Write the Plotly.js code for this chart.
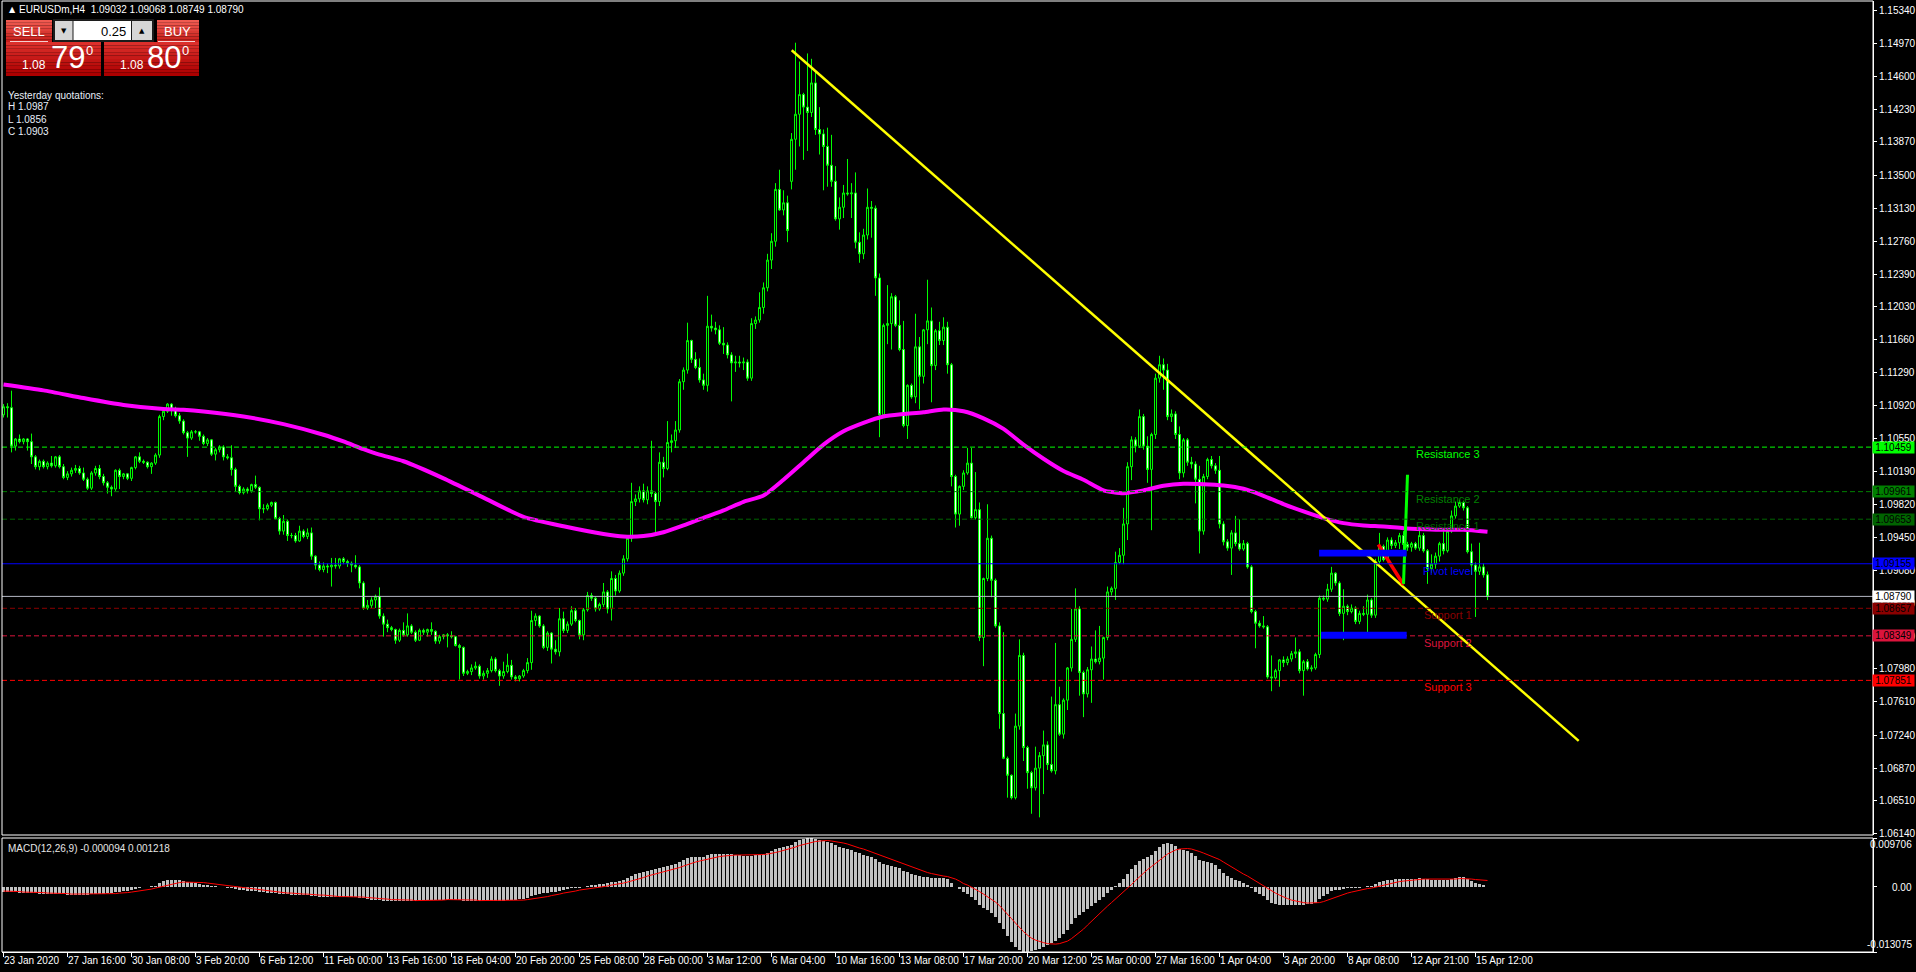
<!DOCTYPE html>
<html><head><meta charset="utf-8">
<script src="https://cdn.plot.ly/plotly-3.0.1.min.js"></script>
<style>html,body{margin:0;padding:0;background:#000;overflow:hidden}#chart{width:1916px;height:972px}</style>
</head><body><div id="chart"></div>
<script>
// ---------- DATA (EURUSDm H4) ----------
const openP = [
1.1082,1.1091,1.1090,1.1047,1.1055,1.1052,1.1055,1.1052,1.1035,1.1024,
1.1030,1.1024,1.1028,1.1025,1.1035,1.1024,1.1012,1.1016,1.1020,1.1022,
1.1017,1.1010,1.1000,1.1017,1.1022,1.1013,1.1006,1.1001,1.0999,1.1020,
1.1013,1.1016,1.1011,1.1023,1.1035,1.1030,1.1029,1.1024,1.1028,1.1037,
1.1080,1.1086,1.1094,1.1088,1.1081,1.1075,1.1062,1.1056,1.1063,1.1063,
1.1058,1.1050,1.1054,1.1038,1.1043,1.1046,1.1035,1.1034,1.1021,1.1002,
1.0995,1.0999,1.0997,1.1004,1.1001,1.0977,1.0977,1.0981,1.0984,1.0966,
1.0952,1.0963,1.0947,1.0947,1.0941,1.0952,1.0946,1.0950,1.0924,1.0914,
1.0909,1.0913,1.0912,1.0914,1.0913,1.0921,1.0918,1.0916,1.0914,1.0912,
1.0894,1.0866,1.0869,1.0875,1.0879,1.0857,1.0848,1.0844,1.0842,1.0830,
1.0841,1.0836,1.0846,1.0839,1.0830,1.0841,1.0839,1.0842,1.0840,1.0829,
1.0834,1.0836,1.0835,1.0834,1.0824,1.0822,1.0793,1.0795,1.0799,1.0801,
1.0790,1.0793,1.0796,1.0809,1.0796,1.0790,1.0795,1.0802,1.0789,1.0787,
1.0790,1.0796,1.0805,1.0852,1.0857,1.0846,1.0822,1.0838,1.0820,1.0817,
1.0854,1.0841,1.0848,1.0863,1.0852,1.0836,1.0864,1.0880,1.0877,1.0865,
1.0870,1.0884,1.0865,1.0899,1.0885,1.0905,1.0921,1.0944,1.0985,1.0988,
1.0997,1.0987,1.0997,1.0994,1.0985,1.1029,1.1022,1.1051,1.1053,1.1065,
1.1119,1.1132,1.1165,1.1144,1.1135,1.1121,1.1115,1.1181,1.1179,1.1177,
1.1162,1.1160,1.1149,1.1140,1.1141,1.1140,1.1141,1.1123,1.1184,1.1188,
1.1202,1.1224,1.1255,1.1276,1.1334,1.1311,1.1319,1.1343,1.1390,1.1418,
1.1440,1.1426,1.1420,1.1453,1.1401,1.1396,1.1382,1.1361,1.1343,1.1301,
1.1314,1.1330,1.1329,1.1330,1.1275,1.1262,1.1283,1.1314,1.1313,1.1235,
1.1082,1.1182,1.1184,1.1214,1.1182,1.1155,1.1070,1.1115,1.1102,1.1158,
1.1125,1.1177,1.1187,1.1137,1.1176,1.1165,1.1180,1.1138,1.1013,1.0971,
1.1002,1.1017,1.1028,1.0967,1.0976,1.0833,1.0899,1.0944,1.0897,1.0846,
1.0748,1.0698,1.0679,1.0654,1.0734,1.0813,1.0710,1.0682,1.0665,1.0687,
1.0701,1.0713,1.0691,1.0684,1.0758,1.0725,1.0763,1.0799,1.0831,1.0865,
1.0794,1.0770,1.0797,1.0809,1.0806,1.0810,1.0833,1.0884,1.0888,1.0917,
1.0925,1.0960,1.1024,1.1054,1.1047,1.1080,1.1047,1.1021,1.1060,1.1123,
1.1138,1.1132,1.1080,1.1083,1.1060,1.1017,1.1054,1.1029,1.1027,1.1010,
1.0952,1.1013,1.1032,1.1025,1.1020,1.0960,1.0940,1.0933,1.0950,1.0938,
1.0932,1.0938,1.0912,1.0862,1.0849,1.0846,1.0845,1.0789,1.0788,1.0796,
1.0808,1.0805,1.0809,1.0815,1.0817,1.0796,1.0806,1.0798,1.0799,1.0814,
1.0877,1.0876,1.0887,1.0905,1.0894,1.0860,1.0868,1.0862,1.0866,1.0851,
1.0860,1.0859,1.0875,1.0858,1.0918,1.0935,1.0920,1.0942,1.0936,1.0939,
1.0947,1.0937,1.0934,1.0938,1.0933,1.0947,1.0930,1.0910,1.0915,1.0924,
1.0938,1.0930,1.0952,1.0969,1.0980,1.0984,1.0978,1.0929,1.0914,1.0907,
1.0912,1.09032];
const highP = [
1.1094,1.1095,1.1109,1.1056,1.1060,1.1056,1.1056,1.1061,1.1037,1.1032,
1.1032,1.1030,1.1036,1.1036,1.1037,1.1027,1.1019,1.1023,1.1026,1.1025,
1.1023,1.1012,1.1019,1.1025,1.1026,1.1016,1.1008,1.1003,1.1021,1.1022,
1.1017,1.1017,1.1024,1.1036,1.1040,1.1032,1.1030,1.1029,1.1039,1.1082,
1.1089,1.1095,1.1095,1.1091,1.1084,1.1077,1.1064,1.1065,1.1065,1.1064,
1.1060,1.1056,1.1055,1.1045,1.1048,1.1048,1.1038,1.1048,1.1023,1.1004,
1.1001,1.1001,1.1005,1.1014,1.1002,1.0982,1.0983,1.0985,1.0985,1.0968,
1.0970,1.0965,1.0950,1.0950,1.0958,1.0954,1.0955,1.0956,1.0925,1.0918,
1.0917,1.0916,1.0922,1.0922,1.0922,1.0923,1.0920,1.0918,1.0925,1.0914,
1.0896,1.0875,1.0878,1.0881,1.0889,1.0860,1.0853,1.0846,1.0843,1.0843,
1.0850,1.0860,1.0848,1.0841,1.0843,1.0843,1.0843,1.0850,1.0841,1.0836,
1.0837,1.0838,1.0840,1.0835,1.0826,1.0823,1.0797,1.0803,1.0806,1.0803,
1.0796,1.0799,1.0812,1.0811,1.0798,1.0806,1.0815,1.0808,1.0791,1.0791,
1.0798,1.0810,1.0863,1.0860,1.0858,1.0848,1.0840,1.0839,1.0830,1.0866,
1.0862,1.0851,1.0868,1.0866,1.0853,1.0866,1.0884,1.0883,1.0879,1.0872,
1.0894,1.0886,1.0907,1.0903,1.0908,1.0925,1.0946,1.1006,1.0993,1.1002,
1.1005,1.1002,1.1053,1.0996,1.1040,1.1035,1.1075,1.1060,1.1075,1.1122,
1.1135,1.1185,1.1166,1.1152,1.1145,1.1128,1.1215,1.1194,1.1186,1.1182,
1.1180,1.1163,1.1152,1.1148,1.1148,1.1146,1.1144,1.1190,1.1192,1.1219,
1.1230,1.1262,1.1285,1.1341,1.1356,1.1333,1.1327,1.1397,1.1498,1.1477,
1.1442,1.1486,1.1480,1.1466,1.1426,1.1401,1.1403,1.1395,1.1360,1.1325,
1.1339,1.1368,1.1341,1.1353,1.1286,1.1290,1.1335,1.1321,1.1316,1.1240,
1.1184,1.1227,1.1218,1.1216,1.1210,1.1187,1.1116,1.1117,1.1195,1.1169,
1.1178,1.1233,1.1202,1.1178,1.1186,1.1191,1.1186,1.1140,1.1015,1.1003,
1.1020,1.1045,1.1045,1.1018,1.0984,1.0900,1.0982,1.0947,1.0899,1.0850,
1.0839,1.0700,1.0680,1.0748,1.0831,1.0816,1.0712,1.0684,1.0711,1.0705,
1.0729,1.0717,1.0767,1.0827,1.0778,1.0765,1.0800,1.0865,1.0888,1.0868,
1.0796,1.0800,1.0823,1.0841,1.0846,1.0834,1.0890,1.0890,1.0929,1.0933,
1.0978,1.1029,1.1058,1.1057,1.1088,1.1083,1.1058,1.1062,1.1128,1.1148,
1.1145,1.1139,1.1088,1.1086,1.1069,1.1056,1.1056,1.1035,1.1030,1.1025,
1.1016,1.1034,1.1036,1.1028,1.1036,1.0963,1.0943,1.0953,1.0969,1.0965,
1.0942,1.0940,1.0914,1.0864,1.0852,1.0857,1.0847,1.0813,1.0798,1.0809,
1.0812,1.0812,1.0818,1.0833,1.0820,1.0808,1.0809,1.0802,1.0816,1.0880,
1.0880,1.0893,1.0912,1.0906,1.0896,1.0887,1.0870,1.0870,1.0868,1.0863,
1.0868,1.0881,1.0877,1.0921,1.0950,1.0937,1.0945,1.0945,1.0942,1.0950,
1.0952,1.0940,1.0940,1.0940,1.0954,1.0950,1.0932,1.0926,1.0928,1.0940,
1.0953,1.0955,1.0975,1.0985,1.0987,1.0986,1.0980,1.0938,1.0917,1.0939,
1.0916,1.09068];
const lowP = [
1.1079,1.1079,1.1040,1.1042,1.1050,1.1049,1.1042,1.1027,1.1021,1.1020,
1.1022,1.1021,1.1023,1.1023,1.1022,1.1010,1.1009,1.1013,1.1017,1.1015,
1.1008,1.0998,1.0998,1.1014,1.1010,1.1003,1.0994,1.0991,1.0997,1.0999,
1.1010,1.1009,1.1008,1.1021,1.1028,1.1027,1.1022,1.1016,1.1026,1.1034,
1.1076,1.1084,1.1081,1.1079,1.1072,1.1060,1.1035,1.1054,1.1061,1.1053,
1.1048,1.1047,1.1036,1.1031,1.1040,1.1031,1.1032,1.1014,1.0996,1.0993,
1.0993,1.0994,1.0995,1.0999,1.0964,1.0972,1.0975,1.0979,1.0965,1.0948,
1.0948,1.0941,1.0944,1.0939,1.0940,1.0944,1.0943,1.0920,1.0909,1.0907,
1.0906,1.0905,1.0890,1.0910,1.0910,1.0915,1.0912,1.0906,1.0910,1.0888,
1.0864,1.0864,1.0866,1.0866,1.0854,1.0834,1.0839,1.0840,1.0826,1.0828,
1.0834,1.0834,1.0837,1.0828,1.0829,1.0836,1.0834,1.0836,1.0826,1.0826,
1.0831,1.0822,1.0832,1.0823,1.0786,1.0790,1.0791,1.0791,1.0797,1.0787,
1.0786,1.0788,1.0794,1.0794,1.0779,1.0787,1.0793,1.0786,1.0784,1.0784,
1.0788,1.0793,1.0797,1.0846,1.0844,1.0820,1.0818,1.0804,1.0814,1.0812,
1.0838,1.0838,1.0846,1.0850,1.0831,1.0830,1.0862,1.0874,1.0862,1.0863,
1.0867,1.0860,1.0852,1.0880,1.0883,1.0902,1.0918,1.0940,1.0980,1.0984,
1.0984,1.0982,1.0990,1.0951,1.0980,1.1012,1.1020,1.1040,1.1045,1.1062,
1.1110,1.1128,1.1140,1.1133,1.1118,1.1110,1.1108,1.1175,1.1172,1.1160,
1.1150,1.1145,1.1097,1.1130,1.1135,1.1132,1.1120,1.1120,1.1178,1.1185,
1.1195,1.1220,1.1245,1.1270,1.1310,1.1305,1.1275,1.1334,1.1356,1.1382,
1.1367,1.1377,1.1415,1.1395,1.1373,1.1333,1.1337,1.1337,1.1299,1.1289,
1.1302,1.1327,1.1302,1.1268,1.1252,1.1256,1.1278,1.1280,1.1215,1.1057,
1.1080,1.1161,1.1155,1.1180,1.1153,1.1068,1.1055,1.1100,1.1095,1.1088,
1.1117,1.1161,1.1096,1.1132,1.1160,1.1160,1.1128,1.1002,1.0956,1.0958,
1.0998,1.1015,1.0966,1.0965,1.0829,1.0801,1.0896,1.0878,1.0844,1.0731,
1.0697,1.0654,1.0652,1.0652,1.0730,1.0695,1.0664,1.0636,1.0662,1.0632,
1.0658,1.0685,1.0682,1.0680,1.0723,1.0720,1.0752,1.0795,1.0828,1.0768,
1.0744,1.0766,1.0760,1.0804,1.0803,1.0786,1.0830,1.0880,1.0875,1.0915,
1.0915,1.0942,1.1009,1.1040,1.1045,1.1043,1.1006,1.0953,1.1055,1.1118,
1.1110,1.1076,1.1074,1.1055,1.1010,1.1012,1.1025,1.1022,1.0983,1.0927,
1.0948,1.1010,1.1022,1.1016,1.0955,1.0936,1.0930,1.0903,1.0935,1.0930,
1.0930,1.0910,1.0860,1.0821,1.0844,1.0843,1.0787,1.0773,1.0786,1.0778,
1.0800,1.0802,1.0806,1.0810,1.0793,1.0768,1.0796,1.0795,1.0797,1.0810,
1.0874,1.0873,1.0884,1.0891,1.0857,1.0830,1.0858,1.0860,1.0848,1.0848,
1.0857,1.0834,1.0855,1.0855,1.0915,1.0918,1.0917,1.0932,1.0933,1.0932,
1.0930,1.0930,1.0929,1.0931,1.0930,1.0928,1.0893,1.0905,1.0910,1.0918,
1.0926,1.0928,1.0950,1.0966,1.0978,1.0975,1.0927,1.0903,1.0856,1.0903,
1.0900,1.08749];
const closeP = [
1.1091,1.1090,1.1047,1.1055,1.1052,1.1055,1.1052,1.1035,1.1024,1.1030,
1.1024,1.1028,1.1025,1.1035,1.1024,1.1012,1.1016,1.1020,1.1022,1.1017,
1.1010,1.1000,1.1017,1.1022,1.1013,1.1006,1.1001,1.0999,1.1020,1.1013,
1.1016,1.1011,1.1023,1.1035,1.1030,1.1029,1.1024,1.1028,1.1037,1.1080,
1.1086,1.1094,1.1088,1.1081,1.1075,1.1062,1.1056,1.1063,1.1063,1.1058,
1.1050,1.1054,1.1038,1.1043,1.1046,1.1035,1.1034,1.1021,1.1002,1.0995,
1.0999,1.0997,1.1004,1.1001,1.0977,1.0977,1.0981,1.0984,1.0966,1.0952,
1.0963,1.0947,1.0947,1.0941,1.0952,1.0946,1.0950,1.0924,1.0914,1.0909,
1.0913,1.0912,1.0914,1.0913,1.0921,1.0918,1.0916,1.0914,1.0912,1.0894,
1.0866,1.0869,1.0875,1.0879,1.0857,1.0848,1.0844,1.0842,1.0830,1.0841,
1.0836,1.0846,1.0839,1.0830,1.0841,1.0839,1.0842,1.0840,1.0829,1.0834,
1.0836,1.0835,1.0834,1.0824,1.0822,1.0793,1.0795,1.0799,1.0801,1.0790,
1.0793,1.0796,1.0809,1.0796,1.0790,1.0795,1.0802,1.0789,1.0787,1.0790,
1.0796,1.0805,1.0852,1.0857,1.0846,1.0822,1.0838,1.0820,1.0817,1.0854,
1.0841,1.0848,1.0863,1.0852,1.0836,1.0864,1.0880,1.0877,1.0865,1.0870,
1.0884,1.0865,1.0899,1.0885,1.0905,1.0921,1.0944,1.0985,1.0988,1.0997,
1.0987,1.0997,1.0994,1.0985,1.1029,1.1022,1.1051,1.1053,1.1065,1.1119,
1.1132,1.1165,1.1144,1.1135,1.1121,1.1115,1.1181,1.1179,1.1177,1.1162,
1.1160,1.1149,1.1140,1.1141,1.1140,1.1141,1.1123,1.1184,1.1188,1.1202,
1.1224,1.1255,1.1276,1.1334,1.1311,1.1319,1.1288,1.1390,1.1418,1.1440,
1.1426,1.1420,1.1453,1.1401,1.1396,1.1382,1.1361,1.1343,1.1301,1.1314,
1.1330,1.1329,1.1330,1.1275,1.1262,1.1283,1.1314,1.1313,1.1235,1.1082,
1.1182,1.1184,1.1214,1.1182,1.1155,1.1070,1.1115,1.1102,1.1158,1.1125,
1.1177,1.1187,1.1137,1.1176,1.1165,1.1180,1.1138,1.1013,1.0971,1.1002,
1.1017,1.1028,1.0967,1.0976,1.0833,1.0899,1.0944,1.0897,1.0846,1.0748,
1.0698,1.0679,1.0654,1.0734,1.0813,1.0710,1.0682,1.0665,1.0687,1.0701,
1.0713,1.0691,1.0684,1.0758,1.0725,1.0763,1.0799,1.0831,1.0865,1.0794,
1.0770,1.0797,1.0809,1.0806,1.0810,1.0833,1.0884,1.0888,1.0917,1.0925,
1.0960,1.1024,1.1054,1.1047,1.1080,1.1047,1.1021,1.1060,1.1123,1.1138,
1.1132,1.1080,1.1083,1.1060,1.1017,1.1054,1.1029,1.1027,1.1010,1.0952,
1.1013,1.1032,1.1025,1.1020,1.0960,1.0940,1.0933,1.0950,1.0938,1.0932,
1.0938,1.0912,1.0862,1.0849,1.0846,1.0845,1.0789,1.0788,1.0796,1.0808,
1.0805,1.0809,1.0815,1.0817,1.0796,1.0806,1.0798,1.0799,1.0814,1.0877,
1.0876,1.0887,1.0905,1.0894,1.0860,1.0868,1.0862,1.0866,1.0851,1.0860,
1.0859,1.0875,1.0858,1.0918,1.0935,1.0920,1.0942,1.0936,1.0939,1.0947,
1.0937,1.0934,1.0938,1.0933,1.0947,1.0930,1.0910,1.0915,1.0924,1.0938,
1.0930,1.0952,1.0969,1.0980,1.0984,1.0978,1.0929,1.0914,1.0907,1.0912,
1.0903,1.0879];

// Moving average (magenta), read at these bar positions
const maBars = [0,10,20,30,40,45,50,60,70,80,85,90,94,100,110,120,130,140,150,155,160,165,170,175,180,185,190,195,200,205,210,215,220,225,230,235,240,245,250,255,260,265,270,275,280,285,290,295,300,305,310,315,320,325,330,335,340,345,350,355,360,365,371];
const maVals = [1.11160,1.11093,1.11007,1.10929,1.10884,1.10876,1.10858,1.10802,1.10716,1.10597,1.10522,1.10436,1.10375,1.10301,1.10110,1.09894,1.09679,1.09574,1.09488,1.09459,1.09464,1.09507,1.09583,1.09669,1.09751,1.09847,1.09917,1.10094,1.10290,1.10487,1.10636,1.10730,1.10801,1.10828,1.10848,1.10879,1.10860,1.10781,1.10663,1.10487,1.10329,1.10192,1.10094,1.09976,1.09944,1.09975,1.10027,1.10049,1.10045,1.10030,1.09993,1.09915,1.09822,1.09740,1.09665,1.09609,1.09583,1.09572,1.09553,1.09542,1.09534,1.09534,1.09512];

// MACD(12,26,9): main histogram and signal line
const macdMain = [
-0.0010,-0.0010,-0.0011,-0.0011,-0.0012,-0.0012,-0.0012,-0.0013,-0.0013,-0.0014,
-0.0014,-0.0014,-0.0015,-0.0015,-0.0015,-0.0015,-0.0016,-0.0016,-0.0016,-0.0016,
-0.0016,-0.0016,-0.0015,-0.0015,-0.0015,-0.0014,-0.0013,-0.0012,-0.0011,-0.0010,
-0.0009,-0.0008,-0.0006,-0.0004,-0.0002,-0.0001,0.0000,0.0001,0.0002,0.0008,
0.0011,0.0013,0.0014,0.0014,0.0013,0.0012,0.0010,0.0009,0.0008,0.0006,
0.0004,0.0003,0.0002,0.0001,0.0000,-0.0001,-0.0002,-0.0003,-0.0005,-0.0006,
-0.0007,-0.0008,-0.0008,-0.0009,-0.0010,-0.0011,-0.0012,-0.0012,-0.0013,-0.0014,
-0.0015,-0.0015,-0.0016,-0.0016,-0.0016,-0.0017,-0.0017,-0.0018,-0.0019,-0.0020,
-0.0020,-0.0021,-0.0021,-0.0021,-0.0021,-0.0021,-0.0021,-0.0021,-0.0021,-0.0022,
-0.0023,-0.0025,-0.0026,-0.0026,-0.0027,-0.0028,-0.0028,-0.0029,-0.0029,-0.0029,
-0.0029,-0.0028,-0.0028,-0.0028,-0.0027,-0.0027,-0.0026,-0.0026,-0.0026,-0.0026,
-0.0026,-0.0026,-0.0026,-0.0026,-0.0027,-0.0028,-0.0028,-0.0029,-0.0029,-0.0029,
-0.0029,-0.0029,-0.0028,-0.0028,-0.0028,-0.0028,-0.0027,-0.0027,-0.0026,-0.0025,
-0.0024,-0.0023,-0.0019,-0.0016,-0.0014,-0.0013,-0.0012,-0.0011,-0.0011,-0.0008,
-0.0006,-0.0005,-0.0003,-0.0002,-0.0002,0.0000,0.0002,0.0003,0.0004,0.0005,
0.0006,0.0007,0.0009,0.0010,0.0012,0.0014,0.0017,0.0022,0.0025,0.0028,
0.0030,0.0032,0.0034,0.0035,0.0037,0.0039,0.0042,0.0044,0.0046,0.0050,
0.0053,0.0057,0.0059,0.0060,0.0060,0.0060,0.0063,0.0065,0.0066,0.0066,
0.0066,0.0066,0.0065,0.0064,0.0063,0.0062,0.0061,0.0062,0.0063,0.0064,
0.0066,0.0068,0.0071,0.0075,0.0078,0.0080,0.0081,0.0084,0.0089,0.0093,
0.0096,0.0097,0.0097,0.0096,0.0094,0.0092,0.0090,0.0087,0.0084,0.0080,
0.0077,0.0075,0.0073,0.0070,0.0067,0.0064,0.0062,0.0060,0.0056,0.0050,
0.0046,0.0044,0.0042,0.0040,0.0037,0.0032,0.0029,0.0025,0.0023,0.0021,
0.0020,0.0020,0.0018,0.0017,0.0017,0.0017,0.0015,0.0008,0.0000,-0.0005,
-0.0010,-0.0014,-0.0020,-0.0026,-0.0036,-0.0042,-0.0046,-0.0052,-0.0060,-0.0072,
-0.0085,-0.0098,-0.0110,-0.0120,-0.0127,-0.0131,-0.0130,-0.0129,-0.0127,-0.0124,
-0.0121,-0.0117,-0.0113,-0.0108,-0.0103,-0.0095,-0.0086,-0.0075,-0.0063,-0.0056,
-0.0050,-0.0044,-0.0038,-0.0032,-0.0027,-0.0021,-0.0013,-0.0006,0.0002,0.0008,
0.0016,0.0026,0.0036,0.0043,0.0051,0.0056,0.0059,0.0064,0.0072,0.0080,
0.0085,0.0087,0.0085,0.0082,0.0076,0.0073,0.0071,0.0067,0.0062,0.0054,
0.0051,0.0049,0.0047,0.0044,0.0036,0.0028,0.0021,0.0017,0.0014,0.0011,
0.0008,0.0004,-0.0003,-0.0010,-0.0015,-0.0019,-0.0027,-0.0032,-0.0035,-0.0036,
-0.0037,-0.0037,-0.0037,-0.0037,-0.0037,-0.0036,-0.0035,-0.0034,-0.0032,-0.0025,
-0.0019,-0.0014,-0.0008,-0.0006,-0.0006,-0.0004,-0.0003,-0.0002,-0.0002,-0.0002,
-0.0001,0.0001,0.0001,0.0005,0.0009,0.0011,0.0013,0.0014,0.0015,0.0016,
0.0016,0.0016,0.0016,0.0016,0.0017,0.0016,0.0015,0.0014,0.0013,0.0013,
0.0013,0.0014,0.0016,0.0018,0.0019,0.0019,0.0016,0.0012,0.0008,0.0006,
0.0004,-0.000094];
const macdSignal = [
-0.0009,-0.0009,-0.0010,-0.0010,-0.0010,-0.0011,-0.0011,-0.0011,-0.0012,-0.0012,
-0.0012,-0.0013,-0.0013,-0.0013,-0.0014,-0.0014,-0.0014,-0.0015,-0.0015,-0.0015,
-0.0015,-0.0015,-0.0015,-0.0015,-0.0015,-0.0015,-0.0015,-0.0014,-0.0014,-0.0013,
-0.0013,-0.0012,-0.0011,-0.0010,-0.0009,-0.0007,-0.0006,-0.0005,-0.0003,-0.0001,
0.0001,0.0003,0.0005,0.0007,0.0008,0.0009,0.0009,0.0009,0.0009,0.0009,
0.0008,0.0007,0.0006,0.0005,0.0004,0.0003,0.0002,0.0001,0.0000,-0.0001,
-0.0003,-0.0004,-0.0005,-0.0006,-0.0007,-0.0008,-0.0009,-0.0010,-0.0010,-0.0011,
-0.0012,-0.0013,-0.0013,-0.0014,-0.0014,-0.0015,-0.0015,-0.0016,-0.0016,-0.0017,
-0.0017,-0.0018,-0.0019,-0.0019,-0.0020,-0.0020,-0.0020,-0.0020,-0.0021,-0.0021,
-0.0021,-0.0022,-0.0022,-0.0023,-0.0024,-0.0024,-0.0025,-0.0026,-0.0026,-0.0027,
-0.0027,-0.0027,-0.0027,-0.0028,-0.0028,-0.0027,-0.0027,-0.0027,-0.0027,-0.0027,
-0.0027,-0.0026,-0.0026,-0.0026,-0.0026,-0.0027,-0.0027,-0.0027,-0.0027,-0.0028,
-0.0028,-0.0028,-0.0028,-0.0028,-0.0028,-0.0028,-0.0028,-0.0028,-0.0028,-0.0027,
-0.0027,-0.0026,-0.0025,-0.0024,-0.0023,-0.0021,-0.0020,-0.0018,-0.0017,-0.0015,
-0.0013,-0.0012,-0.0010,-0.0009,-0.0007,-0.0006,-0.0005,-0.0003,-0.0002,-0.0001,
0.0000,0.0001,0.0003,0.0004,0.0005,0.0007,0.0009,0.0011,0.0013,0.0016,
0.0018,0.0021,0.0023,0.0025,0.0027,0.0029,0.0031,0.0034,0.0036,0.0038,
0.0041,0.0044,0.0046,0.0049,0.0051,0.0053,0.0055,0.0057,0.0059,0.0060,
0.0061,0.0062,0.0063,0.0063,0.0063,0.0063,0.0063,0.0063,0.0063,0.0063,
0.0064,0.0065,0.0066,0.0068,0.0070,0.0072,0.0074,0.0076,0.0079,0.0082,
0.0084,0.0087,0.0089,0.0090,0.0091,0.0092,0.0092,0.0091,0.0090,0.0089,
0.0087,0.0085,0.0082,0.0080,0.0077,0.0075,0.0072,0.0069,0.0067,0.0064,
0.0060,0.0057,0.0054,0.0051,0.0049,0.0045,0.0042,0.0039,0.0036,0.0033,
0.0030,0.0028,0.0026,0.0024,0.0023,0.0021,0.0020,0.0018,0.0015,0.0011,
0.0006,0.0003,-0.0001,-0.0005,-0.0010,-0.0015,-0.0020,-0.0025,-0.0031,-0.0038,
-0.0046,-0.0055,-0.0064,-0.0073,-0.0082,-0.0090,-0.0097,-0.0103,-0.0107,-0.0110,
-0.0112,-0.0114,-0.0115,-0.0115,-0.0114,-0.0112,-0.0109,-0.0104,-0.0098,-0.0092,
-0.0085,-0.0077,-0.0069,-0.0061,-0.0054,-0.0046,-0.0039,-0.0032,-0.0025,-0.0018,
-0.0011,-0.0004,0.0004,0.0012,0.0020,0.0027,0.0034,0.0040,0.0046,0.0053,
0.0059,0.0065,0.0069,0.0073,0.0075,0.0076,0.0076,0.0075,0.0073,0.0070,
0.0067,0.0064,0.0061,0.0058,0.0054,0.0049,0.0044,0.0039,0.0034,0.0029,
0.0025,0.0021,0.0016,0.0011,0.0006,0.0002,-0.0003,-0.0008,-0.0013,-0.0017,
-0.0021,-0.0024,-0.0027,-0.0029,-0.0031,-0.0032,-0.0033,-0.0033,-0.0033,-0.0032,
-0.0030,-0.0027,-0.0024,-0.0021,-0.0018,-0.0016,-0.0013,-0.0011,-0.0009,-0.0007,
-0.0006,-0.0004,-0.0003,-0.0001,0.0001,0.0003,0.0005,0.0007,0.0009,0.0010,
0.0011,0.0012,0.0013,0.0014,0.0014,0.0015,0.0015,0.0015,0.0015,0.0014,
0.0014,0.0014,0.0014,0.0015,0.0016,0.0016,0.0016,0.0015,0.0014,0.0013,
0.0013,0.001218];

// Axis tick labels
const tickBars = [0,16,32,48,64,80,96,112,128,144,160,176,192,208,224,240,256,272,288,304,320,336,352,368];
const tickLabels = ["23 Jan 2020","27 Jan 16:00","30 Jan 08:00","3 Feb 20:00","6 Feb 12:00","11 Feb 00:00","13 Feb 16:00","18 Feb 04:00","20 Feb 20:00","25 Feb 08:00","28 Feb 00:00","3 Mar 12:00","6 Mar 04:00","10 Mar 16:00","13 Mar 08:00","17 Mar 20:00","20 Mar 12:00","25 Mar 00:00","27 Mar 16:00","1 Apr 04:00","3 Apr 20:00","8 Apr 08:00","12 Apr 21:00","15 Apr 12:00"];
const priceTicks = [1.15340,1.14970,1.14600,1.14230,1.13870,1.13500,1.13130,1.12760,1.12390,1.12030,1.11660,1.11290,1.10920,1.10550,1.10190,1.09820,1.09450,1.09080,1.08710,1.08340,1.07980,1.07610,1.07240,1.06870,1.06510,1.06140];
const macdTickVals = [0.009706, 0, -0.013075];
const macdTickText = ["0.009706", "0.00", "-0.013075"];

// Pivot levels
const levelNames  = ["Resistance 3","Resistance 2","Resistance 1","Pivot level","Support 1","Support 2","Support 3"];
const levelPrices = [1.10459,1.09961,1.09653,1.09155,1.08657,1.08349,1.07851];
const levelColors = ["#00ff00","#008000","#006400","#0000ff","#8b0000","#dc143c","#ff0000"];
const levelDash   = ["dash","dash","dash","solid","dash","dash","dash"];
const lastPrice = 1.08790;

// Drawn objects
const trendX = [197.05, 393.8],  trendY = [1.14896, 1.07175];
const redX   = [343.7, 350.0],   redY   = [1.0937, 1.0892];
const greenX = [350.0, 351.0],   greenY = [1.0893, 1.1015];
const zoneX0 = [328.9, 329.4], zoneX1 = [350.8, 350.8];
const zoneY0 = [1.09236, 1.08316], zoneY1 = [1.09311, 1.08394];

// Header / panel texts
const symbolText = "EURUSDm,H4\u00a0\u00a01.09032 1.09068 1.08749 1.08790";
const lotText = "0.25";
const bidBig = "79", askBig = "80", pricePrefix = "1.08", pipFrac = "0";
const yesterdayLines = ["Yesterday quotations:","H 1.0987","L 1.0856","C 1.0903"];
const macdTitle = "MACD(12,26,9) -0.000094 0.001218";

// ---------- LAYOUT ----------
const W=1916, H=972, ML=2, MR=43, MT=1, MB=20;
const PW=W-ML-MR, PH=H-MT-MB;
const px = x => (x-ML)/PW;
const py = y => 1-(y-MT)/PH;
const MAIN_BOTTOM=835, MACD_TOP=838;
const mainDomain=[py(MAIN_BOTTOM),1], macdDomain=[0,py(MACD_TOP)];
const yTop = 1.1534 + (10.5-MT)/8945, yBot = 1.1534 - (MAIN_BOTTOM-10.5)/8945;

const AX = "'Liberation Sans',Arial,sans-serif";
const SANS = "'Liberation Sans',Arial,sans-serif";
const bars = openP.map((_,i)=>i);

const traces = [
  {type:'candlestick', x:bars, open:openP, high:highP, low:lowP, close:closeP, xaxis:'x', yaxis:'y',
   increasing:{line:{color:'#00ff00',width:1},fillcolor:'#000000'},
   decreasing:{line:{color:'#00ff00',width:1},fillcolor:'#ffffff'},
   whiskerwidth:0, hoverinfo:'skip'},
  {type:'scatter', mode:'lines', x:maBars, y:maVals, xaxis:'x', yaxis:'y',
   line:{color:'#ff00ff',width:4,shape:'spline',smoothing:0.6}, hoverinfo:'skip'},
  {type:'scatter', mode:'lines', x:trendX, y:trendY, xaxis:'x', yaxis:'y', line:{color:'#ffff00',width:2.5}, hoverinfo:'skip'},
  {type:'scatter', mode:'lines', x:redX, y:redY, xaxis:'x', yaxis:'y', line:{color:'#ff0000',width:3.5}, hoverinfo:'skip'},
  {type:'scatter', mode:'lines', x:greenX, y:greenY, xaxis:'x', yaxis:'y', line:{color:'#00ff00',width:3}, hoverinfo:'skip'},
  {type:'bar', x:bars, y:macdMain, xaxis:'x', yaxis:'y2', width:0.6, marker:{color:'#c0c0c0',line:{width:0}}, hoverinfo:'skip'},
  {type:'scatter', mode:'lines', x:bars, y:macdSignal, xaxis:'x', yaxis:'y2', line:{color:'#ff0000',width:1}, hoverinfo:'skip'}
];

const shapes = [];
const annotations = [];

// horizontal levels
levelPrices.forEach((p,i)=>{
  shapes.push({type:'line', xref:'paper', x0:0, x1:1, yref:'y', y0:p, y1:p,
    line:{color:levelColors[i], width:1, dash: levelDash[i]==='dash' ? '5px,3px' : 'solid'}});
  annotations.push({xref:'x', x:361, yref:'y', y:p, yshift:-7, text:levelNames[i], showarrow:false,
    font:{family:SANS, size:11, color:levelColors[i]}, xanchor:'center', yanchor:'middle'});
});
shapes.push({type:'line', xref:'paper', x0:0, x1:1, yref:'y', y0:lastPrice, y1:lastPrice, line:{color:'#b4b8c4', width:1}});

// blue zones
zoneX0.forEach((x0,i)=>{
  shapes.push({type:'rect', xref:'x', yref:'y', x0:x0, x1:zoneX1[i], y0:zoneY0[i], y1:zoneY1[i], fillcolor:'#0000ff', line:{width:0}});
});

// panel frames
shapes.push({type:'rect', xref:'paper', yref:'paper', x0:0, x1:1, y0:mainDomain[0], y1:mainDomain[1], line:{color:'#ffffff',width:1}, fillcolor:'rgba(0,0,0,0)'});
shapes.push({type:'rect', xref:'paper', yref:'paper', x0:0, x1:1, y0:macdDomain[0], y1:macdDomain[1], line:{color:'#ffffff',width:1}, fillcolor:'rgba(0,0,0,0)'});

// right-side price boxes
const boxPrices = levelPrices.concat([lastPrice]);
const boxColors = levelColors.concat(['#ffffff']);
boxPrices.forEach((p,i)=>{
  annotations.push({xref:'paper', x:1, xshift:-1, xanchor:'left', yref:'y', y:p, yanchor:'middle',
    text:p.toFixed(5), showarrow:false, bgcolor:boxColors[i], width:41, height:11, borderpad:0,
    font:{family:AX, size:10, color:'#000000'}});
});

// x labels (left aligned at ticks)
tickBars.forEach((b,i)=>{
  annotations.push({xref:'x', x:b, xshift:-2, xanchor:'left', yref:'paper', y:py(960), yanchor:'middle',
    text:tickLabels[i], showarrow:false, font:{family:AX, size:10, color:'#ffffff'}});
});
// MACD labels (right aligned at the window edge)
const macdLabelY = [844, 887, 944];
macdTickText.forEach((t,i)=>{
  annotations.push({xref:'paper', x:px(1914), xanchor:'right', yref:'paper', y:py(macdLabelY[i]), yanchor:'middle',
    text:t, showarrow:false, font:{family:AX, size:10, color:'#ffffff'}});
});

// ---- trading panel ----
function hex(c){return [1,3,5].map(k=>parseInt(c.substr(k,2),16));}
function mix(a,b,t){const A=hex(a),B=hex(b);return 'rgb('+A.map((v,k)=>Math.round(v+(B[k]-v)*t)).join(',')+')';}
function grad(x0,y0,x1,y1,c0,c1,n){
  for(let i=0;i<n;i++){
    const ya=y0+(y1-y0)*i/n, yb=y0+(y1-y0)*(i+1)/n;
    shapes.push({type:'rect', xref:'paper', yref:'paper', x0:px(x0), x1:px(x1), y0:py(yb), y1:py(ya),
      fillcolor:mix(c0,c1,n>1?i/(n-1):0), line:{width:0}, layer:'above'});
  }
}
function box(x0,y0,x1,y1,fill,lc){
  shapes.push({type:'rect', xref:'paper', yref:'paper', x0:px(x0), x1:px(x1), y0:py(y1), y1:py(y0),
    fillcolor:fill, line:{width:lc?1:0, color:lc||fill}, layer:'above'});
}
function txt(x,y,t,size,color,anchor,fam){
  annotations.push({xref:'paper', yref:'paper', x:px(x), y:py(y), text:t, showarrow:false,
    xanchor:anchor||'left', yanchor:'middle', font:{family:fam||SANS, size:size, color:color}});
}
// SELL / BUY buttons
grad(6,20,52,42,'#f05a50','#c8201c',8);
grad(157,20,199,42,'#f05a50','#c8201c',8);
shapes.push({type:'line', xref:'paper', yref:'paper', x0:px(10), x1:px(48), y0:py(41.5), y1:py(41.5), line:{color:'#f4d0d0',width:1}, layer:'above'});
shapes.push({type:'line', xref:'paper', yref:'paper', x0:px(158), x1:px(195), y0:py(41.5), y1:py(41.5), line:{color:'#f4d0d0',width:1}, layer:'above'});
// lot control
box(53,19,154,42,'#1c1c1c');
box(55,21,72.5,40,'#d6d6d6');
box(73.5,21,131,40,'#ffffff');
box(132,21,152,40,'#d6d6d6');
// price boxes
grad(6,42,101,76,'#dc2f2b','#ac0000',10);
grad(104,42,199,76,'#dc2f2b','#ac0000',10);
txt(29,31,'SELL',13,'#ffffff','center');
txt(177,31,'BUY',13,'#ffffff','center');
txt(64,30.5,'\u25BC',7,'#000000','center','DejaVu Sans');
txt(142,30.5,'\u25B2',7,'#000000','center','DejaVu Sans');
txt(128,31,lotText,13,'#000000','right');
txt(19.5,65,pricePrefix,12,'#ffffff','left');
txt(48.5,58,bidBig,31,'#ffffff','left');
txt(84,50.5,pipFrac,13,'#ffffff','left');
txt(117.5,65,pricePrefix,12,'#ffffff','left');
txt(145,58,askBig,31,'#ffffff','left');
txt(180,50.5,pipFrac,13,'#ffffff','left');
// header
txt(7,9.5,'\u25B2',8,'#ffffff','left','DejaVu Sans');
txt(17,9.5,symbolText,10,'#ffffff','left',AX);
yesterdayLines.forEach((t,i)=>txt(6,95+i*12,t,10,'#e8eef8','left',AX));
txt(6,848,macdTitle,10,'#e6e6e6','left',AX);

const layout = {
  width:W, height:H, margin:{l:ML, r:MR, t:MT, b:MB, pad:0},
  paper_bgcolor:'#000000', plot_bgcolor:'#000000',
  showlegend:false, hovermode:false, dragmode:false, bargap:0,
  xaxis:{domain:[0,1], anchor:'y2', range:[-0.375, 467.375], rangeslider:{visible:false},
    showgrid:false, zeroline:false, showline:true, linecolor:'#ffffff', linewidth:1,
    ticks:'outside', ticklen:4, tickcolor:'#ffffff', tickvals:tickBars, showticklabels:false},
  yaxis:{domain:mainDomain, anchor:'x', side:'right', range:[yBot, yTop], showgrid:false, zeroline:false,
    showline:true, linecolor:'#ffffff', linewidth:1, ticks:'outside', ticklen:3, tickcolor:'#ffffff',
    tickvals:priceTicks, tickformat:'.5f', tickfont:{family:AX, size:10, color:'#ffffff'}},
  yaxis2:{domain:macdDomain, anchor:'x', side:'right', range:[-0.013075, 0.009706], showgrid:false, zeroline:false,
    showline:true, linecolor:'#ffffff', linewidth:1, ticks:'outside', ticklen:3, tickcolor:'#ffffff',
    tickvals:macdTickVals, showticklabels:false},
  shapes:shapes, annotations:annotations
};
Plotly.newPlot('chart', traces, layout, {staticPlot:true, displayModeBar:false});
</script>
</body></html>
